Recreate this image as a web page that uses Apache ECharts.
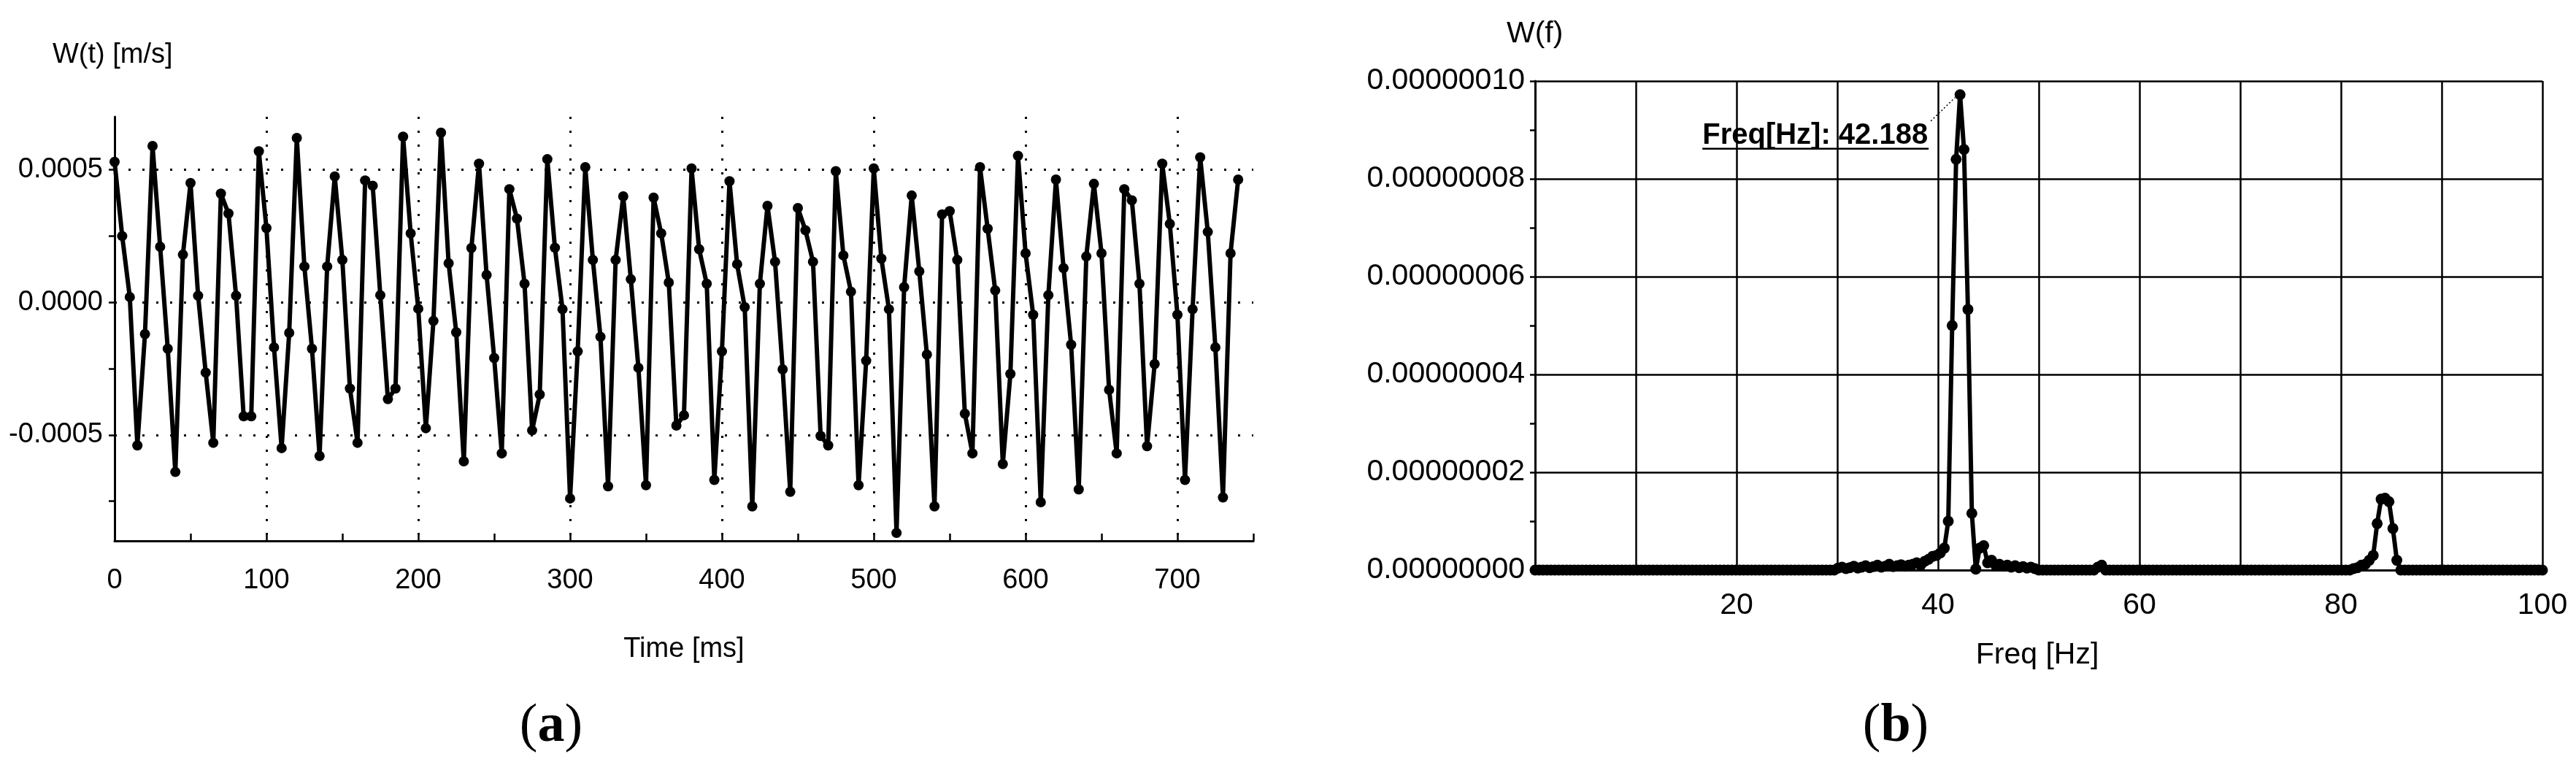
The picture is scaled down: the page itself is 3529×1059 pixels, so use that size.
<!DOCTYPE html>
<html>
<head>
<meta charset="utf-8">
<title>W(t) and W(f)</title>
<script src="https://cdn.jsdelivr.net/npm/echarts@6/dist/echarts.min.js"></script>
<style>
  html, body { margin: 0; padding: 0; background: #fff; }
  #chart { width: 3529px; height: 1059px; }
</style>
</head>
<body>
<div id="chart"></div>
<script>
// (a) velocity signal W(t), one sample every 5 ms
const timeStep = 5;
const velocity = [
  0.00053, 0.00025, 0.00002, -0.00054, -0.00012, 0.00059, 0.00021, -0.000175, -0.00064, 0.00018,
  0.00045, 0.000025, -0.000265, -0.00053, 0.00041, 0.000335, 0.000025, -0.00043, -0.00043, 0.00057,
  0.00028, -0.00017, -0.00055, -0.000115, 0.00062, 0.000135, -0.000175, -0.00058, 0.000135, 0.000475,
  0.00016, -0.000325, -0.00053, 0.00046, 0.00044, 0.000027, -0.000365, -0.000325, 0.000625, 0.00026,
  -0.000024, -0.000475, -0.00007, 0.00064, 0.000147, -0.000113, -0.0006, 0.000205, 0.000523, 0.000103,
  -0.00021, -0.00057, 0.000427, 0.000316, 0.00007, -0.000483, -0.000348, 0.00054, 0.000206, -0.000026,
  -0.00074, -0.000185, 0.00051, 0.00016, -0.00013, -0.000694, 0.00016, 0.0004, 0.000087, -0.000247,
  -0.00069, 0.000395, 0.00026, 0.000075, -0.000465, -0.000426, 0.000505, 0.0002, 0.00007, -0.00067,
  -0.000185, 0.000457, 0.000144, -0.000018, -0.00077, 0.00007, 0.000364, 0.000153, -0.000253, -0.000715,
  0.000356, 0.000272, 0.000153, -0.000504, -0.00054, 0.000495, 0.000177, 0.00004, -0.00069, -0.00022,
  0.000505, 0.000165, -0.000026, -0.00087, 0.000057, 0.000403, 0.000117, -0.000197, -0.00077, 0.000332,
  0.000344, 0.00016, -0.00042, -0.00057, 0.00051, 0.000278, 0.000045, -0.00061, -0.00027, 0.000553,
  0.000185, -0.000047, -0.000754, 0.000027, 0.000463, 0.000129, -0.00016, -0.000706, 0.000173, 0.000447,
  0.000185, -0.00033, -0.00057, 0.000427, 0.000385, 0.00007, -0.000543, -0.000233, 0.000523, 0.000296,
  -0.000047, -0.00067, -0.000026, 0.000547, 0.000266, -0.00017, -0.000736, 0.000185, 0.000463
];
const timeTicks = [0, 50, 100, 150, 200, 250, 300, 350, 400, 450, 500, 550, 600, 650, 700, 750];
const timeLabels = [0, 100, 200, 300, 400, 500, 600, 700];
const timeGrid = [100, 200, 300, 400, 500, 600, 700];
const velTicks = [-0.00075, -0.0005, -0.00025, 0, 0.00025, 0.0005];
const velLabels = [-0.0005, 0, 0.0005];

// (b) spectrum W(f), bin width 0.390625 Hz
const freqStep = 0.390625;
const spectrum = [
  0, 0, 0, 0, 0, 0, 0, 0, 0, 0, 0, 0, 0, 0, 0, 0,
  0, 0, 0, 0, 0, 0, 0, 0, 0, 0, 0, 0, 0, 0, 0, 0,
  0, 0, 0, 0, 0, 0, 0, 0, 0, 0, 0, 0, 0, 0, 0, 0,
  0, 0, 0, 0, 0, 0, 0, 0, 0, 0, 0, 0, 0, 0, 0, 0,
  0, 0, 0, 0, 0, 0, 0, 0, 0, 0, 0, 0, 0, 0.04e-8, 0.06e-8, 0.03e-8,
  0.05e-8, 0.08e-8, 0.04e-8, 0.06e-8, 0.09e-8, 0.05e-8, 0.07e-8, 0.1e-8, 0.06e-8, 0.08e-8, 0.12e-8, 0.07e-8, 0.09e-8, 0.11e-8, 0.08e-8, 0.1e-8,
  0.12e-8, 0.15e-8, 0.1e-8, 0.18e-8, 0.22e-8, 0.28e-8, 0.3e-8, 0.35e-8, 0.45e-8, 1.0e-8, 5.0e-8, 8.4e-8, 9.72e-8, 8.6e-8, 5.33e-8, 1.16e-8,
  0.02e-8, 0.45e-8, 0.5e-8, 0.15e-8, 0.2e-8, 0.1e-8, 0.12e-8, 0.08e-8, 0.1e-8, 0.06e-8, 0.09e-8, 0.05e-8, 0.07e-8, 0.04e-8, 0.06e-8, 0.03e-8,
  0, 0, 0, 0, 0, 0, 0, 0, 0, 0, 0, 0, 0, 0, 0, 0.06e-8,
  0.1e-8, 0, 0, 0, 0, 0, 0, 0, 0, 0, 0, 0, 0, 0, 0, 0,
  0, 0, 0, 0, 0, 0, 0, 0, 0, 0, 0, 0, 0, 0, 0, 0,
  0, 0, 0, 0, 0, 0, 0, 0, 0, 0, 0, 0, 0, 0, 0, 0,
  0, 0, 0, 0, 0, 0, 0, 0, 0, 0, 0, 0, 0, 0, 0, 0,
  0.03e-8, 0.05e-8, 0.1e-8, 0.12e-8, 0.2e-8, 0.3e-8, 0.95e-8, 1.45e-8, 1.47e-8, 1.4e-8, 0.85e-8, 0.2e-8, 0, 0, 0, 0,
  0, 0, 0, 0, 0, 0, 0, 0, 0, 0, 0, 0, 0, 0, 0, 0,
  0, 0, 0, 0, 0, 0, 0, 0, 0, 0, 0, 0, 0, 0, 0, 0,
  0
];

// check whether a narrow sans is installed (panel a uses tall, narrow glyphs)
function hasFont(name) {
  const ctx = document.createElement('canvas').getContext('2d');
  ctx.font = '40px monospace';
  const w0 = ctx.measureText('0.0005 W(t) [m/s]').width;
  ctx.font = '40px "' + name + '", monospace';
  return ctx.measureText('0.0005 W(t) [m/s]').width !== w0;
}
const narrow = hasFont('Liberation Sans Narrow');
const fontA = narrow ? '"Liberation Sans Narrow", "Liberation Sans", Arial, sans-serif' : '"Liberation Sans", Arial, sans-serif';
const sizeA = narrow ? 46 : 38;
const fontB = '"Liberation Sans", Arial, sans-serif';
const sizeB = 41;
const serif = '"Liberation Serif", "DejaVu Serif", serif';

const chart = echarts.init(document.getElementById('chart'));

const velPoints = velocity.map((v, i) => [i * timeStep, v]);
const specPoints = spectrum.map((v, i) => [i * freqStep, v]);

const black = '#000';

function caption(letter, x, y) {
  return {
    type: 'text', x: x, y: y,
    style: {
      text: '{p|(}{b|' + letter + '}{p|)}',
      align: 'center', verticalAlign: 'middle',
      rich: {
        p: { fontFamily: serif, fontSize: 74, fill: black },
        b: { fontFamily: serif, fontSize: 74, fontWeight: 'bold', fill: black }
      }
    }
  };
}

const baseGraphics = [
  { type: 'text', x: 72, y: 76, style: { text: 'W(t) [m/s]', font: sizeA + 'px ' + fontA, fill: black, align: 'left', verticalAlign: 'middle' } },
  { type: 'text', x: 937, y: 890, style: { text: 'Time [ms]', font: sizeA + 'px ' + fontA, fill: black, align: 'center', verticalAlign: 'middle' } },
  { type: 'text', x: 2064, y: 47, style: { text: 'W(f)', font: sizeB + 'px ' + fontB, fill: black, align: 'left', verticalAlign: 'middle' } },
  { type: 'text', x: 2791, y: 898, style: { text: 'Freq [Hz]', font: sizeB + 'px ' + fontB, fill: black, align: 'center', verticalAlign: 'middle' } },
  caption('a', 755, 996),
  caption('b', 2597, 996)
];

const option = {
  animation: false,
  backgroundColor: '#fff',
  grid: [
    { left: 157, top: 160, width: 1560, height: 581 },
    { left: 2103, top: 111, width: 1380, height: 670 }
  ],
  xAxis: [
    {
      gridIndex: 0, type: 'value', min: 0, max: 750,
      axisLine: { onZero: false, lineStyle: { color: black, width: 3 } },
      axisTick: { inside: true, length: 10, customValues: timeTicks, lineStyle: { color: black, width: 2.5 } },
      axisLabel: { customValues: timeLabels, color: black, fontFamily: fontA, fontSize: sizeA, margin: 36 },
      splitLine: { show: false }
    },
    {
      // dotted vertical grid of panel a
      gridIndex: 0, type: 'value', min: 0, max: 750,
      axisLine: { show: false, onZero: false },
      axisTick: { show: false, customValues: timeGrid },
      axisLabel: { show: false },
      splitLine: { show: true, lineStyle: { color: black, width: 3, type: [3, 16] } }
    },
    {
      gridIndex: 1, type: 'value', min: 0, max: 100, interval: 10,
      axisLine: { onZero: false, lineStyle: { color: black, width: 3 } },
      axisTick: { show: false },
      axisLabel: {
        color: black, fontFamily: fontB, fontSize: sizeB, margin: 28,
        formatter: v => (v % 20 === 0 && v !== 0) ? String(v) : ''
      },
      splitLine: { show: true, lineStyle: { color: black, width: 2.5 } }
    }
  ],
  yAxis: [
    {
      gridIndex: 0, type: 'value', min: -0.0009, max: 0.0007,
      axisLine: { show: true, onZero: false, lineStyle: { color: black, width: 3 } },
      axisTick: { show: true, length: 8, customValues: velTicks, lineStyle: { color: black, width: 2.5 } },
      axisLabel: { customValues: velLabels, color: black, fontFamily: fontA, fontSize: sizeA, margin: 16, formatter: v => v.toFixed(4) },
      splitLine: { show: false }
    },
    {
      // dotted horizontal grid of panel a
      gridIndex: 0, type: 'value', min: -0.0009, max: 0.0007,
      axisLine: { show: false, onZero: false },
      axisTick: { show: false, customValues: velLabels },
      axisLabel: { show: false },
      splitLine: { show: true, lineStyle: { color: black, width: 3, type: [3, 16] } }
    },
    {
      gridIndex: 1, type: 'value', min: 0, max: 1e-7, interval: 2e-8,
      axisLine: { show: true, onZero: false, lineStyle: { color: black, width: 3 } },
      axisTick: { show: true, length: 7, lineStyle: { color: black, width: 2.5 } },
      minorTick: { show: true, splitNumber: 2, length: 7, lineStyle: { color: black, width: 2.5 } },
      axisLabel: { color: black, fontFamily: fontB, fontSize: sizeB, margin: 14, formatter: v => v.toFixed(8) },
      splitLine: { show: true, lineStyle: { color: black, width: 2.5 } }
    }
  ],
  series: [
    {
      name: 'W(t)', type: 'line', xAxisIndex: 0, yAxisIndex: 0,
      data: velPoints,
      symbol: 'circle', symbolSize: 14,
      lineStyle: { color: black, width: 6 },
      itemStyle: { color: black },
      emphasis: { disabled: true },
      z: 5
    },
    {
      name: 'W(f)', type: 'line', xAxisIndex: 2, yAxisIndex: 2,
      data: specPoints,
      symbol: 'circle', symbolSize: 15,
      lineStyle: { color: black, width: 6 },
      itemStyle: { color: black },
      emphasis: { disabled: true },
      z: 5
    }
  ],
  graphic: baseGraphics
};

chart.setOption(option);

// peak annotation of the spectrum, placed from the axis scales
let peakIdx = 0;
spectrum.forEach((v, i) => { if (v > spectrum[peakIdx]) peakIdx = i; });
const peakF = peakIdx * freqStep;
const p = chart.convertToPixel({ gridIndex: 1 }, [peakF, spectrum[peakIdx]]);
const noteText = 'Freq[Hz]: ' + peakF.toFixed(3);
const noteFont = 'bold 40px ' + fontB;
const mctx = document.createElement('canvas').getContext('2d');
mctx.font = noteFont;
const noteW = mctx.measureText(noteText).width;
const noteRight = p[0] - 44;

chart.setOption({
  graphic: baseGraphics.concat([
    { type: 'text', x: noteRight, y: p[1] + 56, z: 20,
      style: { text: noteText, font: noteFont, fill: black, align: 'right', verticalAlign: 'middle' } },
    { type: 'line', z: 20,
      shape: { x1: noteRight - noteW, y1: p[1] + 74, x2: noteRight + 1, y2: p[1] + 74 },
      style: { stroke: black, lineWidth: 2.5 } },
    { type: 'line', z: 20,
      shape: { x1: noteRight + 4, y1: p[1] + 36, x2: p[0] - 7, y2: p[1] + 4 },
      style: { stroke: black, lineWidth: 1.5, lineDash: [2, 3] } }
  ])
});

window.addEventListener('resize', () => chart.resize());
</script>
</body>
</html>
